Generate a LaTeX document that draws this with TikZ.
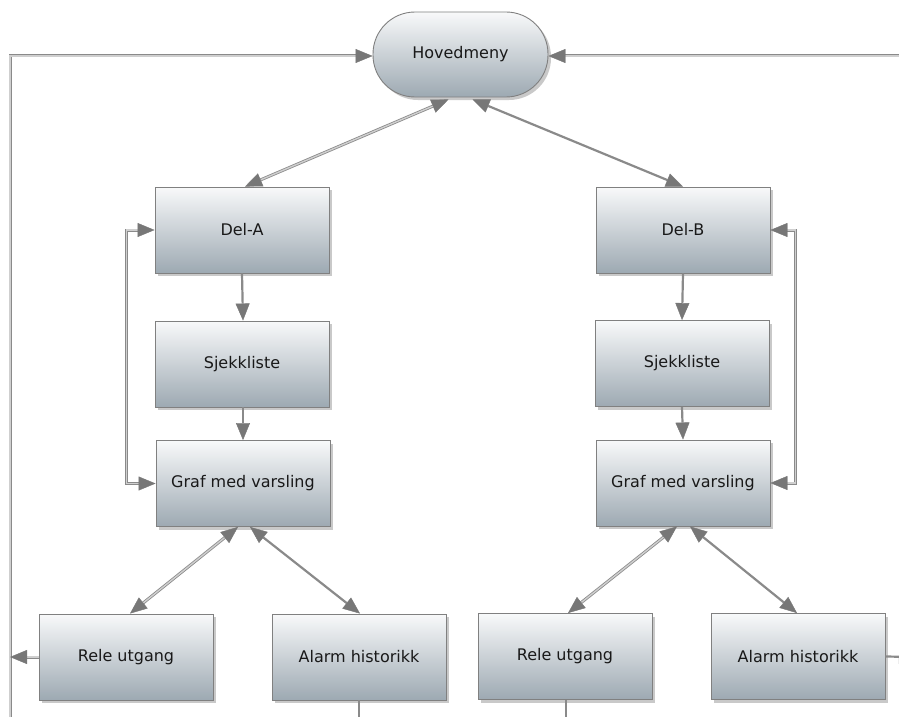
\documentclass[tikz,border=0pt]{standalone}
\usepackage{fontspec}
\setmainfont{DejaVu Sans}
\usetikzlibrary{arrows.meta,shadows}
\definecolor{boxtop}{HTML}{F8F9FA}
\definecolor{boxbot}{HTML}{9DA9B2}
\definecolor{boxline}{HTML}{808080}
\definecolor{wirecol}{HTML}{8A8A8A}
\definecolor{wirein}{HTML}{CFCFCF}
\definecolor{tipcol}{HTML}{777777}
\tikzset{gtip/.tip={Triangle[length=17pt,width=14pt,fill=tipcol,color=tipcol,line width=0.4pt]}}
\begin{document}
\begin{tikzpicture}[x=1pt,y=-1pt,
  every node/.style={font=\fontsize{16}{19}\selectfont, text=black!90},
  stepbox/.style={draw=boxline, line width=0.9pt, top color=boxtop, bottom color=boxbot,
    minimum width=174pt, minimum height=86pt, inner sep=0pt,
    drop shadow={shadow xshift=3pt, shadow yshift=-3pt, opacity=0.3, fill=black!70}},
  pill/.style={stepbox, rounded corners=42pt, minimum width=175pt, minimum height=85pt},
  wire/.style={draw=wirecol, line width=0.8pt, double=wirein, double distance=1.4pt},
  thinwire/.style={draw=wirecol, line width=2.2pt},
]
\useasboundingbox (0,0) rectangle (899,717);
\clip (0,0) rectangle (899,717);

% main menu and the two branches
\node[pill] (hm) at (460.5,54.5) {Hovedmeny};

\node[stepbox] (delA) at (242,230) {Del-A};
\node[stepbox] (sjA)  at (242,364) {Sjekkliste};
\node[stepbox] (grA)  at (243,483.5) {Graf med varsling};
\node[stepbox] (reA)  at (126,657) {Rele utgang};
\node[stepbox] (alA)  at (359,657) {Alarm historikk};

\node[stepbox] (delB) at (683,230) {Del-B};
\node[stepbox] (sjB)  at (682,363.5) {Sjekkliste};
\node[stepbox] (grB)  at (683,483) {Graf med varsling};
\node[stepbox] (reB)  at (565,656.5) {Rele utgang};
\node[stepbox] (alB)  at (798,656.5) {Alarm historikk};

% free ends at the edges
\coordinate (lbot) at (10,725);
\coordinate (rtop) at (910,56);
\coordinate (alAend) at (359,725);
\coordinate (reBend) at (566,725);
\coordinate (alBend) at (916,657);

% return lines to the main menu
\draw[wire, -{gtip}] (lbot) |- ([yshift=-1.5pt]hm.west);
\draw[wire, -{gtip}] (rtop) -- ([yshift=-1.5pt]hm.east);
\draw[wire, -{gtip}] (reA.west) -- (reA.west -| lbot);

% main menu to the two parts
\draw[wire, {gtip}-{gtip}] ([xshift=-12pt,yshift=-2pt]hm.south) -- ([xshift=3pt]delA.north);
\draw[thinwire, {gtip}-{gtip}] ([xshift=12pt,yshift=-2pt]hm.south) -- (delB.north);

% part A
\draw[thinwire, -{gtip}] (delA.south) -- ([xshift=1pt]sjA.north);
\draw[thinwire, -{gtip}] ([xshift=1pt]sjA.south) -- (grA.north);
\draw[wire, {gtip}-{gtip}] (delA.west) -- ++(-28,0) |- (grA.west);
\draw[wire, {gtip}-{gtip}] ([xshift=-5pt]grA.south) -- ([xshift=4pt]reA.north);
\draw[thinwire, {gtip}-{gtip}] ([xshift=7pt]grA.south) -- ([xshift=1pt]alA.north);

% part B
\draw[thinwire, -{gtip}] (delB.south) -- (sjB.north);
\draw[thinwire, -{gtip}] (sjB.south) -- (grB.north);
\draw[wire, {gtip}-{gtip}] (delB.east) -- ++(25,0) |- (grB.east);
\draw[wire, {gtip}-{gtip}] ([xshift=-6pt]grB.south) -- ([xshift=3pt]reB.north);
\draw[thinwire, {gtip}-{gtip}] ([xshift=7pt]grB.south) -- ([xshift=-1pt]alB.north);

% lines leaving the picture
\draw[thinwire] (alA.south) -- (alAend);
\draw[thinwire] ([xshift=1pt]reB.south) -- (reBend);
\draw[thinwire, -{gtip}] (alB.east) -- (alBend);
\end{tikzpicture}
\end{document}
